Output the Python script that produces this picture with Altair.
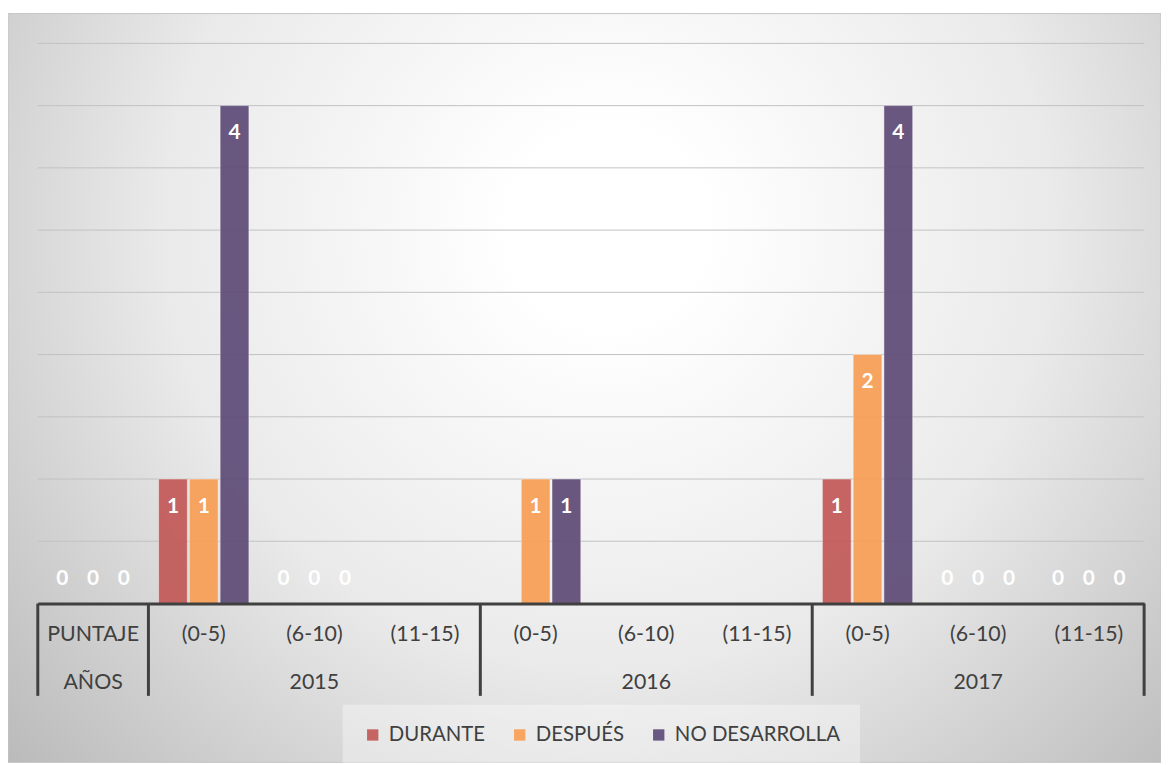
import altair as alt
import pandas as pd

# ---- data ----
range_labels = ["PUNTAJE", "(0-5)", "(6-10)", "(11-15)", "(0-5)", "(6-10)", "(11-15)",
                "(0-5)", "(6-10)", "(11-15)"]
group_labels = ["AÑOS", "2015", "2015", "2015", "2016", "2016", "2016",
                "2017", "2017", "2017"]
series = ["DURANTE", "DESPUÉS", "NO DESARROLLA"]
durante = [0, 1, 0, None, None, None, None, 1, 0, 0]
despues = [0, 1, 0, None, 1, None, None, 2, 0, 0]
no_desarrolla = [0, 4, 0, None, 1, None, None, 4, 0, 0]
colors = ["#c25a58", "#f79f55", "#5f4c78"]
grid_values = [0.5, 1, 1.5, 2, 2.5, 3, 3.5, 4, 4.5]

groups = ["AÑOS", "2015", "2016", "2017"]
group_center_slot = [0, 2, 5, 8]
group_start_slot = [0, 1, 4, 7]

slot_keys = [f"{g} {r}" for g, r in zip(group_labels, range_labels)]

rows = []
for name, vals in zip(series, [durante, despues, no_desarrolla]):
    for k, v in zip(slot_keys, vals):
        if v is not None:
            rows.append({"slot": k, "series": name, "value": v})
bars_df = pd.DataFrame(rows)

cat_df = pd.DataFrame({"slot": slot_keys, "label": range_labels})
grp_df = pd.DataFrame({"slot": [slot_keys[i] for i in group_center_slot], "label": groups})
sep_df = pd.DataFrame({"slot": [slot_keys[i] for i in group_start_slot]})
end_df = pd.DataFrame({"slot": [slot_keys[-1]]})
grid_df = pd.DataFrame({"value": grid_values})

W, H = 1114, 564
FONT = "Lato"
TXT = "#404040"

xscale = alt.Scale(type="band", domain=slot_keys, paddingInner=0, paddingOuter=0)
xaxis = alt.Axis(labels=False, ticks=False, title=None, grid=False,
                 domainColor=TXT, domainWidth=3, zindex=2)
X = alt.X("slot:N", scale=xscale, axis=xaxis, sort=slot_keys)
yscale = alt.Scale(domain=[0, 4.5], nice=False, zero=True)
Y = alt.Y("value:Q", scale=yscale, axis=None)
XO = alt.XOffset("series:N", sort=series,
                 scale=alt.Scale(domain=series, paddingInner=0.065, paddingOuter=0.33))

gradient = {
    "gradient": "radial",
    "x1": 0.52, "y1": 0.36, "x2": 0.52, "y2": 0.36, "r1": 0, "r2": 0.7,
    "stops": [
        {"offset": 0, "color": "#ffffff"},
        {"offset": 0.12, "color": "#ffffff"},
        {"offset": 0.55, "color": "#eaeaea"},
        {"offset": 1, "color": "#bababa"},
    ],
}

bg = alt.Chart(pd.DataFrame({"a": [0]})).mark_rect(
    fill=gradient, stroke="#c6c6c6", strokeWidth=1
).encode(
    x=alt.value(-30), x2=alt.value(W + 17), y=alt.value(-30), y2=alt.value(H + 160)
)

grid = alt.Chart(grid_df).mark_rule(color="#c2c2c2", strokeWidth=1).encode(
    y=Y, x=alt.value(0), x2=alt.value(W)
)

bars = alt.Chart(bars_df).transform_filter("datum.value > 0").mark_bar(
    opacity=0.93, stroke="white", strokeOpacity=0.45, strokeWidth=1
).encode(
    x=X, y=Y, xOffset=XO,
    color=alt.Color(
        "series:N", sort=series,
        scale=alt.Scale(domain=series, range=colors),
        legend=alt.Legend(
            orient="none", legendX=307, legendY=666, direction="horizontal",
            title=None, symbolType="square", symbolSize=130, symbolStrokeWidth=0,
            labelFont=FONT, labelFontSize=20.5, labelColor=TXT, labelOffset=6,
            labelLimit=400, columnPadding=24,
            fillColor="rgba(255,255,255,0.35)", padding=20,
        ),
    ),
)

pos_labels = alt.Chart(bars_df).transform_filter("datum.value > 0").mark_text(
    color="white", fontWeight="bold", font=FONT, fontSize=21, baseline="middle", dy=28
).encode(x=X, y=Y, xOffset=XO, text="value:Q")

zero_labels = alt.Chart(bars_df).transform_filter("datum.value == 0").mark_text(
    color="white", fontWeight="bold", font=FONT, fontSize=21, baseline="middle", dy=-25
).encode(x=X, y=Y, xOffset=XO, text="value:Q")

cat_text = alt.Chart(cat_df).mark_text(
    font=FONT, fontSize=21.5, color=TXT, baseline="middle"
).encode(x=X, y=alt.value(596), text="label:N")

grp_text = alt.Chart(grp_df).mark_text(
    font=FONT, fontSize=21.5, color=TXT, baseline="middle"
).encode(x=X, y=alt.value(644), text="label:N")

seps = alt.Chart(sep_df).mark_rule(color=TXT, strokeWidth=3).encode(
    x=alt.X("slot:N", scale=xscale, axis=xaxis, sort=slot_keys, bandPosition=0),
    y=alt.value(H), y2=alt.value(H + 93),
)
end_sep = alt.Chart(end_df).mark_rule(color=TXT, strokeWidth=3).encode(
    x=alt.X("slot:N", scale=xscale, axis=xaxis, sort=slot_keys, bandPosition=1),
    y=alt.value(H), y2=alt.value(H + 93),
)

chart = alt.layer(
    bg, grid, bars, pos_labels, zero_labels, cat_text, grp_text, seps, end_sep
).properties(
    width=W, height=H,
    autosize="none",
    padding={"left": 30, "top": 33, "right": 17, "bottom": 160},
    background="white",
).configure_view(stroke=None)

chart.save("out.html", embed_options={"renderer": "svg", "actions": False})
